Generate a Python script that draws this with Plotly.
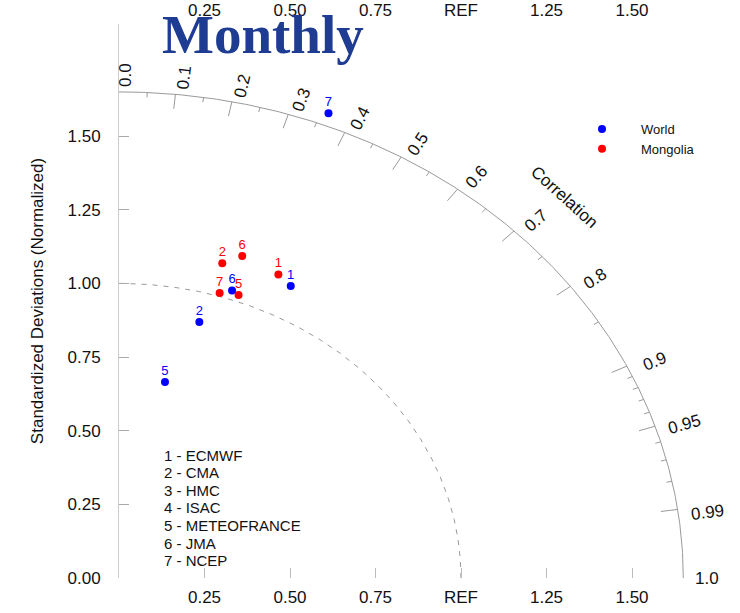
import numpy as np
import plotly.graph_objects as go

# ---------------- data ----------------
models = ["ECMWF", "CMA", "HMC", "ISAC", "METEOFRANCE", "JMA", "NCEP"]

world_ids = [1, 2, 5, 6, 7]
world_sd = [1.111, 0.900, 0.679, 1.030, 1.692]
world_corr = [0.452, 0.261, 0.198, 0.321, 0.362]

mongolia_ids = [1, 2, 5, 6, 7]
mongolia_sd = [1.131, 1.110, 1.022, 1.151, 1.011]
mongolia_corr = [0.412, 0.272, 0.342, 0.313, 0.291]

sd_tickvals = [0.0, 0.25, 0.50, 0.75, 1.00, 1.25, 1.50]
sd_ticktext = ["0.00", "0.25", "0.50", "0.75", "1.00", "1.25", "1.50"]
x_tickvals = [0.25, 0.50, 0.75, 1.00, 1.25, 1.50]
x_ticktext = ["0.25", "0.50", "0.75", "REF", "1.25", "1.50"]

corr_labels = [0.0, 0.1, 0.2, 0.3, 0.4, 0.5, 0.6, 0.7, 0.8, 0.9, 0.95, 0.99, 1.0]
corr_big = [0.1, 0.2, 0.3, 0.4, 0.5, 0.6, 0.7, 0.8, 0.9, 0.95, 0.99]
corr_small = [0.05, 0.15, 0.25, 0.35, 0.45, 0.55, 0.65, 0.75, 0.85,
              0.91, 0.92, 0.93, 0.94, 0.96, 0.97, 0.98]

max_sd = 1.65
ref_sd = 1.0

# ---------------- layout geometry ----------------
W, H = 740, 613
ML, MR, MT, MB = 119, 0, 24, 35
PX_X, PX_Y = 342.0, 294.6          # pixels per unit on x / y
plot_w = W - ML - MR
plot_h = H - MT - MB
x_max = plot_w / PX_X
y_max = plot_h / PX_Y


def paper_x(px):
    return (px - ML) / plot_w


def paper_y(py):
    return (H - MB - py) / plot_h


def data_to_paper(x, y):
    return (x * PX_X) / plot_w, (y * PX_Y) / plot_h


def vis_angle(theta):
    return np.degrees(np.arctan2(PX_Y * np.sin(theta), PX_X * np.cos(theta)))


def to_xy(sd, corr):
    sd = np.asarray(sd, float)
    corr = np.asarray(corr, float)
    return sd * corr, sd * np.sqrt(1 - corr ** 2)


fig = go.Figure()

line_col = "#9a9a9a"
# arcs
t = np.linspace(0, np.pi / 2, 300)
fig.add_trace(go.Scatter(x=max_sd * np.cos(t), y=max_sd * np.sin(t), mode="lines",
                         line=dict(color=line_col, width=1), hoverinfo="skip",
                         showlegend=False, cliponaxis=False, xaxis="x2"))
fig.add_trace(go.Scatter(x=ref_sd * np.cos(t), y=ref_sd * np.sin(t), mode="lines",
                         line=dict(color="#999999", width=1, dash="5px,6px"),
                         hoverinfo="skip", showlegend=False, cliponaxis=False))

# correlation ticks
tx, ty = [], []
for c in corr_big:
    th = np.arccos(c)
    tx += [max_sd * np.cos(th), 0.97 * max_sd * np.cos(th), None]
    ty += [max_sd * np.sin(th), 0.97 * max_sd * np.sin(th), None]
for c in corr_small:
    th = np.arccos(c)
    tx += [max_sd * np.cos(th), 0.99 * max_sd * np.cos(th), None]
    ty += [max_sd * np.sin(th), 0.99 * max_sd * np.sin(th), None]
fig.add_trace(go.Scatter(x=tx, y=ty, mode="lines", line=dict(color=line_col, width=1),
                         hoverinfo="skip", showlegend=False, cliponaxis=False))

# points
for name, ids, sd, cr, col in [("World", world_ids, world_sd, world_corr, "#0000ff"),
                               ("Mongolia", mongolia_ids, mongolia_sd, mongolia_corr, "#ff0000")]:
    x, y = to_xy(sd, cr)
    fig.add_trace(go.Scatter(x=x, y=y, mode="markers", name=name,
                             marker=dict(color=col, size=8), cliponaxis=False))
    fig.add_trace(go.Scatter(x=x, y=y, mode="markers+text", text=[str(i) for i in ids],
                             textposition="top center", showlegend=False,
                             textfont=dict(color=col, size=13, family="Liberation Sans"),
                             marker=dict(color=col, size=5, opacity=0),
                             hoverinfo="skip", cliponaxis=False))

annotations = []
txt_font = dict(size=17, color="#111111", family="Liberation Sans")
# correlation labels
for c in corr_labels:
    th = np.arccos(c)
    off = 0.0 if c == 1.0 else np.radians(0.7)
    thl = th - off
    R = 1.735 - 0.027 * np.sin(th) ** 2
    if c == 1.0:
        R = 1.72
    lab = "1.0" if c == 1.0 else ("0.0" if c == 0.0 else f"{c:g}")
    px, py = data_to_paper(R * np.cos(thl), R * np.sin(thl))
    annotations.append(dict(x=px, y=py, xref="paper", yref="paper",
                            text=lab, showarrow=False, textangle=-vis_angle(th),
                            xanchor="center", yanchor="middle", font=txt_font))
cx, cy = data_to_paper(1.304, 1.293)
annotations.append(dict(x=cx, y=cy, xref="paper", yref="paper", text="Correlation",
                        showarrow=False, textangle=42, xanchor="center", yanchor="middle",
                        font=txt_font))

# model list
row_y = 455
for i, m in enumerate(models):
    annotations.append(dict(x=paper_x(162), y=paper_y(row_y + i * 17.6), xref="paper",
                            yref="paper", text=f"{i + 1} - {m}", showarrow=False,
                            xanchor="left", yanchor="middle",
                            font=dict(size=15, color="#111111", family="Liberation Sans")))

# title
annotations.append(dict(x=paper_x(263), y=paper_y(34), xref="paper", yref="paper",
                        text="Monthly", showarrow=False, xanchor="center", yanchor="middle",
                        font=dict(size=55, color="#1f3c93", family="Liberation Serif",
                                  weight="bold")))

fig.update_layout(
    width=W, height=H,
    margin=dict(l=ML, r=MR, t=MT, b=MB, autoexpand=False),
    paper_bgcolor="white", plot_bgcolor="white",
    xaxis=dict(range=[0, x_max], tickvals=x_tickvals, ticktext=x_ticktext,
               ticks="inside", ticklen=10, tickcolor="#bbbbbb", showline=False,
               showgrid=False, zeroline=False, tickfont=txt_font, ticklabelstandoff=7,
               fixedrange=True),
    xaxis2=dict(range=[0, x_max], overlaying="x", side="top", tickvals=x_tickvals,
                ticktext=x_ticktext, ticks="", showline=False, showgrid=False,
                zeroline=False, tickfont=txt_font, matches="x", ticklabelstandoff=4),
    yaxis=dict(range=[0, y_max], tickvals=sd_tickvals, ticktext=sd_ticktext,
               ticks="inside", ticklen=10, tickcolor="#aaaaaa", showline=True,
               linecolor="#cccccc", linewidth=1, showgrid=False, zeroline=False,
               tickfont=txt_font, ticklabelstandoff=14,
               title=dict(text="Standardized Deviations (Normalized)",
                          font=txt_font, standoff=19)),
    legend=dict(x=paper_x(563), y=paper_y(114), xanchor="left", yanchor="top",
                font=dict(size=13, color="#111111", family="Liberation Sans"),
                itemwidth=68, bgcolor="rgba(0,0,0,0)"),
    annotations=annotations,
    showlegend=True,
)

fig.write_html("out.html")
